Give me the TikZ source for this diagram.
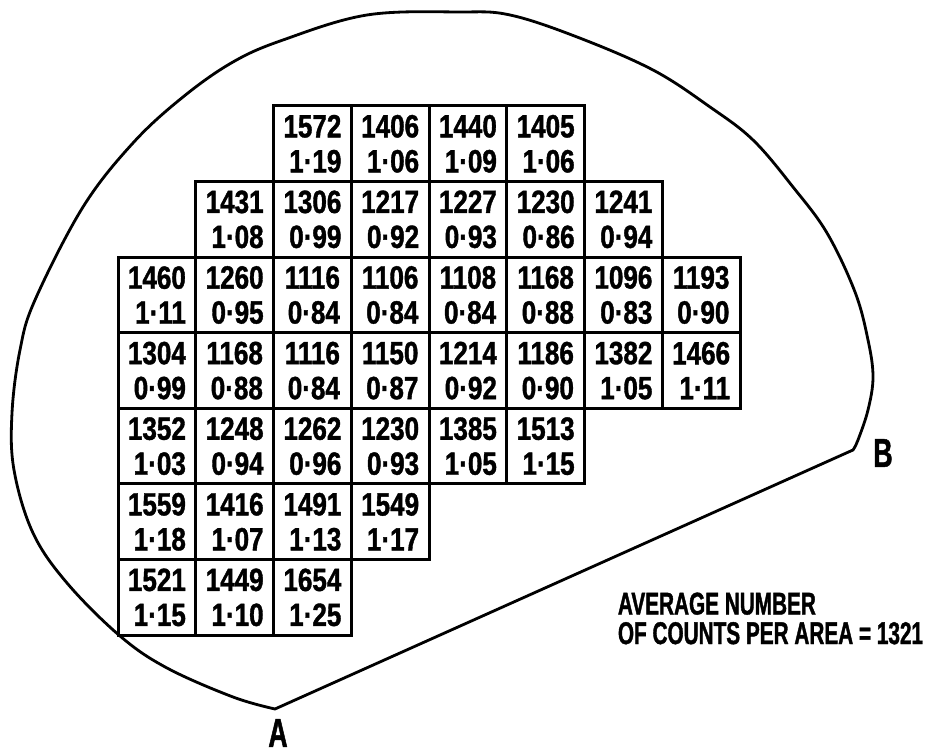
\documentclass[tikz,border=0pt]{standalone}
\usepackage{fontspec}
\setmainfont{Liberation Sans}
\newfontfamily\cellfont{Liberation Sans Bold}[FakeStretch=0.81, FakeBold=1.2]
\newfontfamily\notefont{Liberation Sans Bold}[FakeStretch=0.66, FakeBold=1.2]

\begin{document}
\begin{tikzpicture}[scale=1.0,
    cell/.style={draw, line width=1.7pt, minimum width=1.555cm, minimum height=1.512cm,
        inner sep=0pt, align=right, font=\cellfont\fontsize{18.3}{19.9}\selectfont},
    letter/.style={font=\notefont\fontsize{23}{24}\selectfont, inner sep=0pt}]
    \useasboundingbox (0,0) rectangle (18.5,15.08);

    % 1. Outline of the slice (smooth edge, straight flat A--B)
    \draw[line width=1.6pt, line join=round] plot[smooth, tension=0.6] coordinates {
        (5.50,0.90) (4.66,1.14) (3.34,1.72) (2.40,2.36) (1.34,3.42) (0.66,4.42)
        (0.28,5.68) (0.24,6.82) (0.40,8.08) (0.70,9.08) (1.66,10.94) (2.66,12.22)
        (3.66,13.14) (4.66,13.84) (5.66,14.28) (7.34,14.78) (9.20,14.84) (10.20,14.78)
        (11.54,14.34) (13.06,13.68) (14.20,12.94) (15.06,12.28) (15.86,11.34) (16.54,10.42)
        (17.10,9.24) (17.36,8.28) (17.46,7.54) (17.36,6.88) (17.16,6.28) (17.06,6.08)}
        -- cycle;
    \node[letter] (labA) at (5.56,0.42) {A};
    \node[letter] (labB) at (17.66,6.02) {B};

    % 2. Row 1
    \node[cell] (c13) at (6.248,12.204) {1572\\1·19};
    \node[cell] (c14) at (7.803,12.204) {1406\\1·06};
    \node[cell] (c15) at (9.358,12.204) {1440\\1·09};
    \node[cell] (c16) at (10.913,12.204) {1405\\1·06};

    % Row 2
    \node[cell] (c22) at (4.693,10.692) {1431\\1·08};
    \node[cell] (c23) at (6.248,10.692) {1306\\0·99};
    \node[cell] (c24) at (7.803,10.692) {1217\\0·92};
    \node[cell] (c25) at (9.358,10.692) {1227\\0·93};
    \node[cell] (c26) at (10.913,10.692) {1230\\0·86};
    \node[cell] (c27) at (12.468,10.692) {1241\\0·94};

    % Row 3
    \node[cell] (c31) at (3.138,9.180) {1460\\1·11};
    \node[cell] (c32) at (4.693,9.180) {1260\\0·95};
    \node[cell] (c33) at (6.248,9.180) {1116\\0·84};
    \node[cell] (c34) at (7.803,9.180) {1106\\0·84};
    \node[cell] (c35) at (9.358,9.180) {1108\\0·84};
    \node[cell] (c36) at (10.913,9.180) {1168\\0·88};
    \node[cell] (c37) at (12.468,9.180) {1096\\0·83};
    \node[cell] (c38) at (14.023,9.180) {1193\\0·90};

    % Row 4
    \node[cell] (c41) at (3.138,7.668) {1304\\0·99};
    \node[cell] (c42) at (4.693,7.668) {1168\\0·88};
    \node[cell] (c43) at (6.248,7.668) {1116\\0·84};
    \node[cell] (c44) at (7.803,7.668) {1150\\0·87};
    \node[cell] (c45) at (9.358,7.668) {1214\\0·92};
    \node[cell] (c46) at (10.913,7.668) {1186\\0·90};
    \node[cell] (c47) at (12.468,7.668) {1382\\1·05};
    \node[cell] (c48) at (14.023,7.668) {1466\\1·11};

    % Row 5
    \node[cell] (c51) at (3.138,6.156) {1352\\1·03};
    \node[cell] (c52) at (4.693,6.156) {1248\\0·94};
    \node[cell] (c53) at (6.248,6.156) {1262\\0·96};
    \node[cell] (c54) at (7.803,6.156) {1230\\0·93};
    \node[cell] (c55) at (9.358,6.156) {1385\\1·05};
    \node[cell] (c56) at (10.913,6.156) {1513\\1·15};

    % Row 6
    \node[cell] (c61) at (3.138,4.644) {1559\\1·18};
    \node[cell] (c62) at (4.693,4.644) {1416\\1·07};
    \node[cell] (c63) at (6.248,4.644) {1491\\1·13};
    \node[cell] (c64) at (7.803,4.644) {1549\\1·17};

    % Row 7
    \node[cell] (c71) at (3.138,3.132) {1521\\1·15};
    \node[cell] (c72) at (4.693,3.132) {1449\\1·10};
    \node[cell] (c73) at (6.248,3.132) {1654\\1·25};

    % 3. Legend
    \node[align=left, inner sep=0pt, font=\notefont\fontsize{17.9}{16.8}\selectfont]
        (avg) at (15.41,2.71) {AVERAGE NUMBER\\OF COUNTS PER AREA = 1321};

\end{tikzpicture}
\end{document}
